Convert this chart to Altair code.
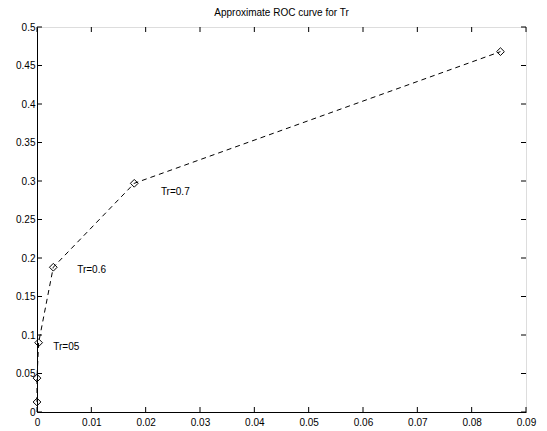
import altair as alt
import pandas as pd

fpr = [0.0, 0.0, 0.0003, 0.0030, 0.0179, 0.0853]
tpr = [0.013, 0.044, 0.090, 0.188, 0.297, 0.468]

label_text = ["Tr=05", "Tr=0.6", "Tr=0.7"]
label_x = [0.0030, 0.0074, 0.0228]
label_y = [0.0844, 0.184, 0.286]

x_ticks = [0, 0.01, 0.02, 0.03, 0.04, 0.05, 0.06, 0.07, 0.08, 0.09]
y_ticks = [0, 0.05, 0.1, 0.15, 0.2, 0.25, 0.3, 0.35, 0.4, 0.45, 0.5]

W, H = 489, 385
FONT = "Liberation Sans"

pts = pd.DataFrame({"x": fpr, "y": tpr, "order": list(range(len(fpr)))})
labs = pd.DataFrame({"x": label_x, "y": label_y, "t": label_text})
xt = pd.DataFrame({"v": x_ticks})
yt = pd.DataFrame({"v": y_ticks})

xs = alt.Scale(domain=[0, 0.09], nice=False, zero=False)
ys = alt.Scale(domain=[0, 0.5], nice=False, zero=False)

xaxis = alt.Axis(values=x_ticks, format="~g", title=None, grid=False, tickSize=0,
                 labelPadding=5, labelFont=FONT, labelFontSize=10, labelColor="black",
                 domainColor="black", labelFlush=False, labelOverlap=False)
yaxis = alt.Axis(values=y_ticks, format="~g", title=None, grid=False, tickSize=0,
                 labelPadding=2, labelFont=FONT, labelFontSize=10, labelColor="black",
                 domainColor="black", labelFlush=False, labelOverlap=False)


def X(f):
    return alt.X(f, scale=xs, axis=xaxis, title=None)


def Y(f):
    return alt.Y(f, scale=ys, axis=yaxis, title=None)


line = alt.Chart(pts).mark_line(color="black", strokeWidth=1, strokeDash=[5, 4]).encode(
    x=X("x:Q"), y=Y("y:Q"), order="order:Q")
markers = alt.Chart(pts).mark_point(shape="diamond", filled=False, color="black",
                                    size=60, strokeWidth=1, opacity=1).encode(
    x=X("x:Q"), y=Y("y:Q"))
texts = alt.Chart(labs).mark_text(align="left", baseline="middle", font=FONT,
                                  fontSize=10, color="black").encode(
    x=X("x:Q"), y=Y("y:Q"), text="t:N")

xb = alt.Chart(xt).mark_rule(color="black", strokeWidth=1).encode(
    x=X("v:Q"), y=alt.value(H), y2=alt.value(H - 5))
xtop = alt.Chart(xt).mark_rule(color="black", strokeWidth=1).encode(
    x=X("v:Q"), y=alt.value(0), y2=alt.value(5))
yl = alt.Chart(yt).mark_rule(color="black", strokeWidth=1).encode(
    y=Y("v:Q"), x=alt.value(0), x2=alt.value(5))
yr = alt.Chart(yt).mark_rule(color="black", strokeWidth=1).encode(
    y=Y("v:Q"), x=alt.value(W - 5), x2=alt.value(W))

chart = alt.layer(line, markers, texts, xb, xtop, yl, yr).properties(
    width=W, height=H,
    title=alt.TitleParams("Approximate ROC curve for Tr", font=FONT, fontSize=10,
                          fontWeight="normal", color="black", offset=4),
    autosize=alt.AutoSizeParams(type="none"),
    padding={"left": 29, "top": 19, "right": 13, "bottom": 22},
).configure_view(stroke="black", strokeWidth=1).configure(background="white")

chart.save("out.html", embed_options={"renderer": "svg", "actions": False})
